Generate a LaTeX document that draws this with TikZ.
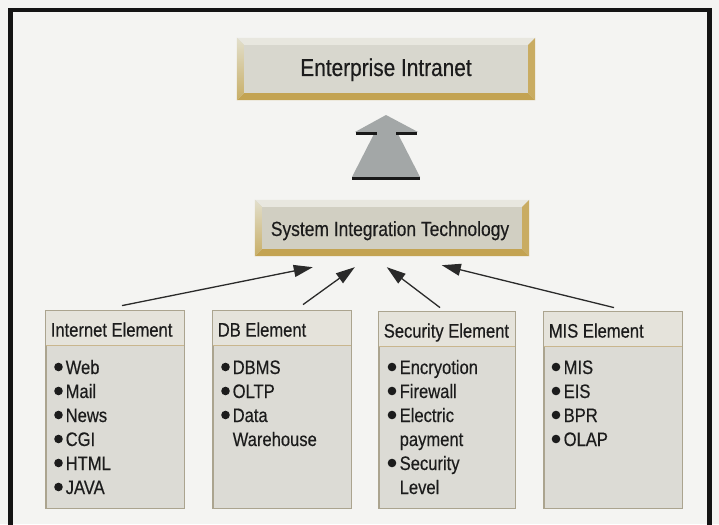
\documentclass[tikz,border=0pt]{standalone}
\usepackage{fontspec}
\setmainfont{Liberation Sans}[FakeStretch=0.85, FakeBold=0.4]
\usetikzlibrary{arrows.meta,calc}
\definecolor{bgc}{HTML}{F4F4F2}
\definecolor{faceA}{HTML}{D8D7CE}
\definecolor{faceB}{HTML}{D1CFC2}
\definecolor{bvtop}{HTML}{E8E7DF}
\definecolor{bvbot}{HTML}{C3A352}
\definecolor{bvright}{HTML}{C9AC62}
\definecolor{bvlefttop}{HTML}{E2DFCC}
\definecolor{bvleftbot}{HTML}{C8AE66}
\definecolor{hdrc}{HTML}{E5E3DB}
\definecolor{bodyc}{HTML}{DCDBD5}
\definecolor{linec}{HTML}{ABA48F}
\definecolor{divc}{HTML}{C9B68E}
\definecolor{bigarrow}{HTML}{A3A7A7}
\definecolor{connc}{HTML}{2A2A2A}
\definecolor{txtc}{HTML}{1C1C1C}
\newcommand\bevelbox[2]{%
  \fill[bvtop] (#1.north west) -- (#1.north east) -- ($(#1.north east)+(-#2,#2)$) -- ($(#1.north west)+(#2,#2)$) -- cycle;
  \fill[bvbot] (#1.south west) -- (#1.south east) -- ($(#1.south east)+(-#2,-#2)$) -- ($(#1.south west)+(#2,-#2)$) -- cycle;
  \shade[top color=bvlefttop,bottom color=bvleftbot] (#1.north west) -- ($(#1.north west)+(#2,#2)$) -- ($(#1.south west)+(#2,-#2)$) -- (#1.south west) -- cycle;
  \fill[bvright] (#1.north east) -- ($(#1.north east)+(-#2,#2)$) -- ($(#1.south east)+(-#2,-#2)$) -- (#1.south east) -- cycle;
}
\tikzset{
  bevelnode/.style={rectangle, inner sep=0pt, text=txtc},
  elem/.style={rectangle, draw=linec, line width=0.8pt, fill=bodyc, inner sep=0pt},
  title/.style={anchor=base west, inner sep=0pt, text=txtc, font=\fontsize{19.5}{22}\selectfont},
  item/.style={anchor=base west, inner sep=0pt, text=txtc, font=\fontsize{19.5}{22}\selectfont},
  conn/.style={draw=connc, line width=1.3pt, -{Triangle[length=19pt,width=12pt]}},
}
\begin{document}
\begin{tikzpicture}[x=1pt,y=-1pt]
\useasboundingbox (0,0) rectangle (719,524);
\clip (0,0) rectangle (719,524);
\fill[bgc] (0,0) rectangle (719,524);
% frame
\draw[black!92, line width=4.5pt] (10.5,530) -- (10.5,10) -- (709.5,10) -- (709.5,530);

% Enterprise Intranet
\node[bevelnode, fill=faceA, minimum width=298pt, minimum height=62pt] (ent) at (386,69) {};
\bevelbox{ent}{7}
\node[bevelnode, anchor=base, font=\fontsize{24.5}{28}\selectfont] (enttxt) at (386,76) {Enterprise Intranet};

% System Integration Technology
\node[bevelnode, fill=faceB, minimum width=274pt, minimum height=56pt] (sit) at (392,228) {};
\bevelbox{sit}{7}
\node[bevelnode, anchor=base, font=\fontsize{20.5}{24}\selectfont] (sittxt) at (390,236) {System Integration Technology};

% big arrow
\fill[bigarrow] (386,115) -- (418,132) -- (397,132) -- (420,177) -- (352,177) -- (375,132) -- (355,132) -- cycle;
\draw[black!90, line width=3pt] (356,133) -- (377,133);
\draw[black!90, line width=3pt] (396,133) -- (417,133);
\draw[black!90, line width=3pt] (352,178) -- (420,178);

% element boxes
\node[elem, minimum width=138pt, minimum height=197pt] (inet) at (115,409.5) {};
\node[elem, minimum width=138pt, minimum height=197pt] (db) at (282,409.5) {};
\node[elem, minimum width=136pt, minimum height=196pt] (sec) at (447,410) {};
\node[elem, minimum width=138pt, minimum height=196pt] (mis) at (613,410) {};

\foreach \n/\t in {inet/Internet Element, db/DB Element, sec/Security Element, mis/MIS Element}{
  \fill[hdrc] (\n.north west) rectangle ($(\n.north east)+(0,35)$);
  \draw[divc, line width=1pt] ($(\n.north west)+(0,35)$) -- ($(\n.north east)+(0,35)$);
  \draw[linec, line width=0.8pt] (\n.north west) rectangle (\n.south east);
  \node[title] (\n-title) at ($(\n.north west)+(5,26)$) {\t};
}

% items: index / text / bullet flag
\foreach \k/\t/\b in {1/Web/1, 2/Mail/1, 3/News/1, 4/CGI/1, 5/HTML/1, 6/JAVA/1}{
  \node[item] (inet-\k) at ({46+19.5},{374+24*(\k-1)}) {\t};
  \ifnum\b=1 \fill[txtc] ({46+12.5},{367+24*(\k-1)}) circle (4.3pt); \fi
}
\foreach \k/\t/\b in {1/DBMS/1, 2/OLTP/1, 3/Data/1, 4/Warehouse/0}{
  \node[item] (db-\k) at ({213+19.5},{374+24*(\k-1)}) {\t};
  \ifnum\b=1 \fill[txtc] ({213+12.5},{367+24*(\k-1)}) circle (4.3pt); \fi
}
\foreach \k/\t/\b in {1/Encryotion/1, 2/Firewall/1, 3/Electric/1, 4/payment/0, 5/Security/1, 6/Level/0}{
  \node[item] (sec-\k) at ({379+20.5},{374+24*(\k-1)}) {\t};
  \ifnum\b=1 \fill[txtc] ({379+13},{367+24*(\k-1)}) circle (4.3pt); \fi
}
\foreach \k/\t/\b in {1/MIS/1, 2/EIS/1, 3/BPR/1, 4/OLAP/1}{
  \node[item] (mis-\k) at ({544+19.5},{374+24*(\k-1)}) {\t};
  \ifnum\b=1 \fill[txtc] ({544+12},{367+24*(\k-1)}) circle (4.3pt); \fi
}

% connectors
\draw[conn] ([shift={(7,-5)}]inet.north) -- ([shift={(58,11)}]sit.south west);
\draw[conn] ([shift={(21,-6)}]db.north) -- ([shift={(100,11)}]sit.south west);
\draw[conn] ([shift={(-7,-4)}]sec.north) -- ([shift={(132,11)}]sit.south west);
\draw[conn] ([shift={(1,-4)}]mis.north) -- ([shift={(187,9)}]sit.south west);
\end{tikzpicture}
\end{document}
